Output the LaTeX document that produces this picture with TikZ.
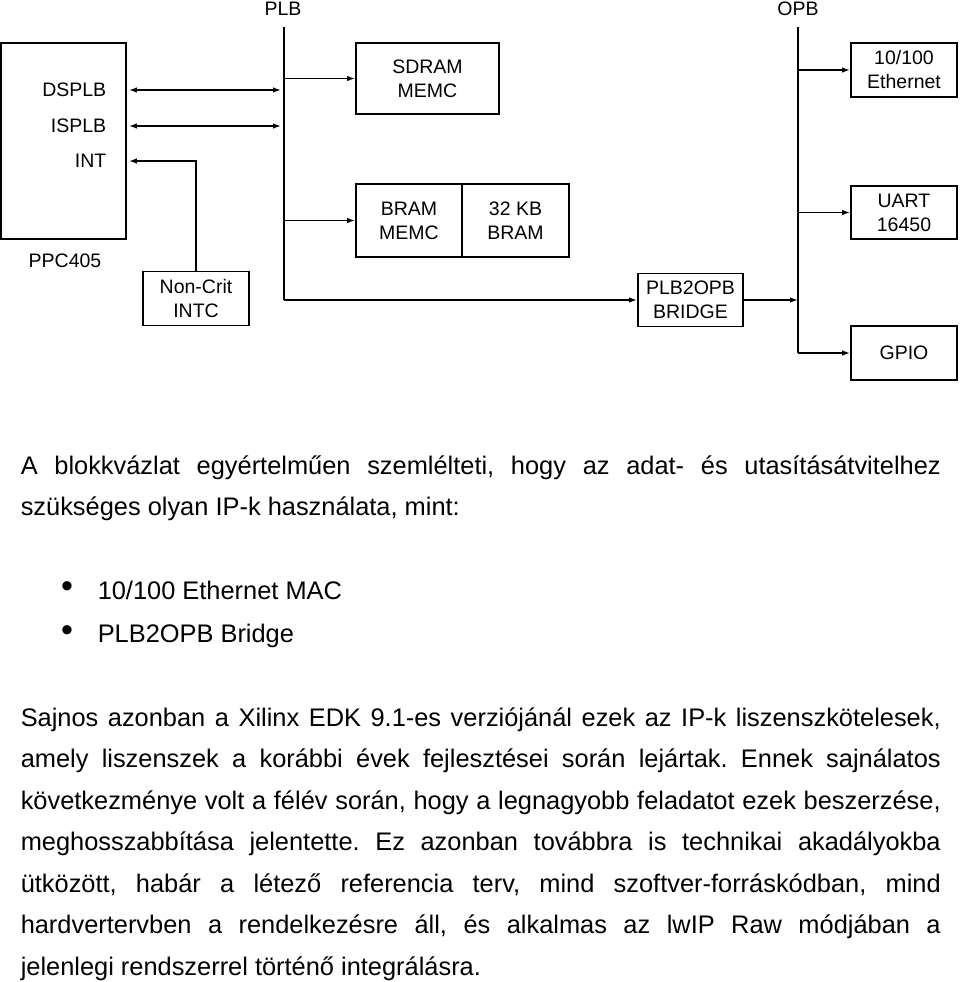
\documentclass[tikz,border=0pt]{standalone}
\usepackage{fontspec}
\setmainfont{Liberation Sans}
\usetikzlibrary{arrows.meta,positioning}

\begin{document}
\begin{tikzpicture}[
    x=1pt, y=-1pt,
    >={Latex[length=8pt,width=5.5pt]},
    line width=1.5pt,
    font=\fontsize{19.5}{24}\selectfont,
    block/.style={
		rectangle,
		draw=black,
		line width=1.7pt,
		inner sep=0pt,
		text centered,
		align=center,
		minimum width=106pt,
		minimum height=54pt
	},
	port/.style={
		anchor=east,
		inner sep=0pt
	},
	busname/.style={
		inner sep=0pt
	},
	para/.style={
		anchor=base west,
		inner sep=0pt,
		text width=920pt,
		align=justify,
		font={\fontsize{25.4}{41.5}\selectfont\frenchspacing\tolerance=10000\hyphenpenalty=10000}
	},
	item/.style={
		anchor=base west,
		inner sep=0pt,
		font=\fontsize{25.4}{30}\selectfont
	}
  ]
  \useasboundingbox (0,0) rectangle (960,982);

    % the blocks of the diagram
  \node [block, minimum width=125pt, minimum height=196pt] (ppc) at (63.5,141) {};
  \node [port] (dsplb) at (107,90) {DSPLB};
  \node [port] (isplb) at (107,126) {ISPLB};
  \node [port] (int) at (107,161) {INT};
  \node [busname] (ppcname) at (65,261) {PPC405};

  \node [block] (intc) at (196,298.5) {Non-Crit\\INTC};

  \node [busname] (plb) at (283,9) {PLB};
  \coordinate (plbtop) at (284,27);
  \coordinate (plbbot) at (284,300);

  \node [block, minimum width=143pt, minimum height=71pt] (sdram) at (427.5,78.5) {SDRAM\\MEMC};
  \node [block, minimum height=73pt] (brammemc) at (409,220.5) {BRAM\\MEMC};
  \node [block, minimum width=107pt, minimum height=73pt, right=-1.7pt of brammemc] (bram) {32 KB\\BRAM};

  \node [block, minimum width=105pt, minimum height=53pt] (bridge) at (690.5,300) {PLB2OPB\\BRIDGE};

  \node [busname] (opb) at (798,9) {OPB};
  \coordinate (opbtop) at (798,27);
  \coordinate (opbbot) at (798,353);

  \node [block] (eth) at (904,70) {10/100\\Ethernet};
  \node [block, minimum height=53pt] (uart) at (904,212.5) {UART\\16450};
  \node [block] (gpio) at (904,353) {GPIO};

    % the buses and the connections
  \draw (plbtop) -- (plbbot);
  \draw [->] (plbbot) -- (bridge.west);
  \draw [->] (plbtop |- sdram.west) -- (sdram.west);
  \draw [->] (plbtop |- brammemc.west) -- (brammemc.west);
  \draw [<->] ([xshift=2pt]ppc.east |- dsplb) -- ([xshift=-3pt]plbtop |- dsplb);
  \draw [<->] ([xshift=2pt]ppc.east |- isplb) -- ([xshift=-3pt]plbtop |- isplb);
  \draw [->] (intc.north) |- ([xshift=2pt]ppc.east |- int);

  \draw (opbtop) -- (opbbot);
  \draw [->] (bridge.east) -- (opbtop |- bridge.east);
  \draw [->] (opbtop |- eth.west) -- (eth.west);
  \draw [->] (opbtop |- uart.west) -- (uart.west);
  \draw [->] (opbbot) -- (gpio.west);

    % the text below the diagram
  \node [para] (text1) at (20,474) {A blokkvázlat egyértelműen szemlélteti, hogy az adat- és utasításátvitelhez\linebreak szükséges olyan IP-k használata, mint:};

  \node [busname, font=\fontsize{34}{36}\selectfont] (bullet1) at (67,590) {•};
  \node [item] (item1) at (97,599) {10/100 Ethernet MAC};
  \node [busname, font=\fontsize{34}{36}\selectfont] (bullet2) at (67,634) {•};
  \node [item] (item2) at (97,642) {PLB2OPB Bridge};

  \node [para] (text2) at (20,726) {Sajnos azonban a Xilinx EDK 9.1-es verziójánál ezek az IP-k liszenszkötelesek,\linebreak
  amely liszenszek a korábbi évek fejlesztései során lejártak. Ennek sajnálatos\linebreak
  következménye volt a félév során, hogy a legnagyobb feladatot ezek beszerzése,\linebreak
  meghosszabbítása jelentette. Ez azonban továbbra is technikai akadályokba\linebreak
  ütközött, habár a létező referencia terv, mind szoftver-forráskódban, mind\linebreak
  hardvertervben a rendelkezésre áll, és alkalmas az lwIP Raw módjában a\linebreak
  jelenlegi rendszerrel történő integrálásra.};

\end{tikzpicture}
\end{document}
